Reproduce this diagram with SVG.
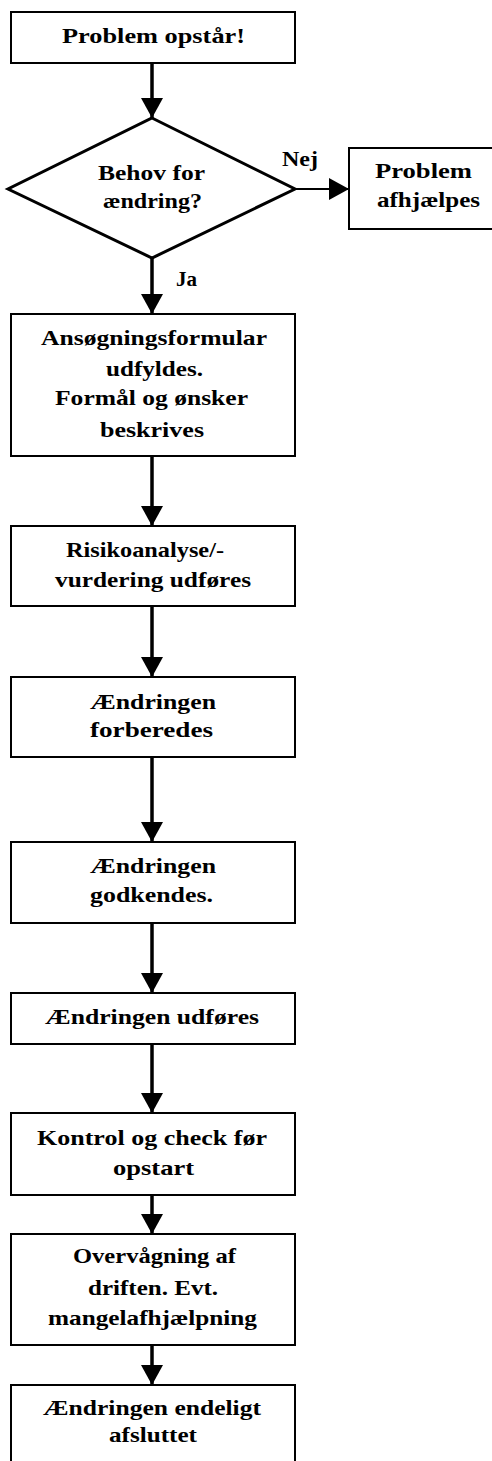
<svg xmlns="http://www.w3.org/2000/svg" width="492" height="1461" viewBox="0 0 492 1461">
<style>
.box{fill:#fff;stroke:#000;stroke-width:2}
.dia{fill:#fff;stroke:#000;stroke-width:3;stroke-linejoin:miter}
.t{font-family:"Liberation Serif","Times New Roman",serif;font-weight:bold;font-size:21px;fill:#000;text-anchor:middle}
.l{font-family:"Liberation Serif","Times New Roman",serif;font-weight:bold;font-size:21px;fill:#000}
.v{stroke:#000;stroke-width:3.5;fill:none}
.h{stroke:#000;stroke-width:2;fill:none}
</style>
<defs>
<marker id="ah" markerUnits="userSpaceOnUse" markerWidth="20" markerHeight="22" viewBox="0 0 20 22" refX="20" refY="11" orient="auto">
<path d="M0,0 L20,11 L0,22 Z" fill="#000"/>
</marker>
</defs>
<rect width="492" height="1461" fill="#fff"/>
<g id="connectors">
<line class="v" x1="152" y1="63" x2="152" y2="118" marker-end="url(#ah)"/>
<line class="h" x1="295" y1="189" x2="349" y2="189" marker-end="url(#ah)"/>
<line class="v" x1="152" y1="258" x2="152" y2="314" marker-end="url(#ah)"/>
<line class="v" x1="152" y1="456" x2="152" y2="526" marker-end="url(#ah)"/>
<line class="v" x1="152" y1="606" x2="152" y2="677" marker-end="url(#ah)"/>
<line class="v" x1="152" y1="757" x2="152" y2="842" marker-end="url(#ah)"/>
<line class="v" x1="152" y1="923" x2="152" y2="993" marker-end="url(#ah)"/>
<line class="v" x1="152" y1="1044" x2="152" y2="1113" marker-end="url(#ah)"/>
<line class="v" x1="152" y1="1195" x2="152" y2="1234" marker-end="url(#ah)"/>
<line class="v" x1="152" y1="1345" x2="152" y2="1385" marker-end="url(#ah)"/>
<text class="l" x="282" y="166" textLength="36" lengthAdjust="spacingAndGlyphs">Nej</text>
<text class="l" x="176" y="286" textLength="21" lengthAdjust="spacingAndGlyphs">Ja</text>
</g>
<g id="n1">
<rect class="box" x="11" y="12" width="284" height="51"/>
<text class="t" x="153.5" y="43" textLength="183" lengthAdjust="spacingAndGlyphs">Problem opstår!</text>
</g>
<g id="n2">
<polygon class="dia" points="152,118 295,189 152,258 8,189"/>
<text class="t" x="151.5" y="180" textLength="107" lengthAdjust="spacingAndGlyphs">Behov for</text>
<text class="t" x="152.5" y="208" textLength="99" lengthAdjust="spacingAndGlyphs">ændring?</text>
</g>
<g id="n3">
<rect class="box" x="349" y="148" width="160" height="81"/>
<text class="t" x="423.5" y="178" textLength="97" lengthAdjust="spacingAndGlyphs">Problem</text>
<text class="t" x="428.5" y="207" textLength="103" lengthAdjust="spacingAndGlyphs">afhjælpes</text>
</g>
<g id="n4">
<rect class="box" x="11" y="314" width="284" height="142"/>
<text class="t" x="154" y="345" textLength="226" lengthAdjust="spacingAndGlyphs">Ansøgningsformular</text>
<text class="t" x="154.5" y="376" textLength="97" lengthAdjust="spacingAndGlyphs">udfyldes.</text>
<text class="t" x="151.5" y="405" textLength="193" lengthAdjust="spacingAndGlyphs">Formål og ønsker</text>
<text class="t" x="152" y="437" textLength="104" lengthAdjust="spacingAndGlyphs">beskrives</text>
</g>
<g id="n5">
<rect class="box" x="11" y="526" width="284" height="80"/>
<text class="t" x="145" y="557" textLength="158" lengthAdjust="spacingAndGlyphs">Risikoanalyse/-</text>
<text class="t" x="153" y="587" textLength="196" lengthAdjust="spacingAndGlyphs">vurdering udføres</text>
</g>
<g id="n6">
<rect class="box" x="11" y="677" width="284" height="80"/>
<text class="t" x="153" y="709" textLength="126" lengthAdjust="spacingAndGlyphs">Ændringen</text>
<text class="t" x="151.5" y="737" textLength="123" lengthAdjust="spacingAndGlyphs">forberedes</text>
</g>
<g id="n7">
<rect class="box" x="11" y="842" width="284" height="81"/>
<text class="t" x="153" y="873" textLength="126" lengthAdjust="spacingAndGlyphs">Ændringen</text>
<text class="t" x="151.5" y="902" textLength="123" lengthAdjust="spacingAndGlyphs">godkendes.</text>
</g>
<g id="n8">
<rect class="box" x="11" y="993" width="284" height="51"/>
<text class="t" x="152" y="1024" textLength="214" lengthAdjust="spacingAndGlyphs">Ændringen udføres</text>
</g>
<g id="n9">
<rect class="box" x="11" y="1113" width="284" height="82"/>
<text class="t" x="152" y="1145" textLength="230" lengthAdjust="spacingAndGlyphs">Kontrol og check før</text>
<text class="t" x="153.5" y="1175" textLength="81" lengthAdjust="spacingAndGlyphs">opstart</text>
</g>
<g id="n10">
<rect class="box" x="11" y="1234" width="284" height="111"/>
<text class="t" x="154.5" y="1263" textLength="163" lengthAdjust="spacingAndGlyphs">Overvågning af</text>
<text class="t" x="153" y="1295" textLength="130" lengthAdjust="spacingAndGlyphs">driften. Evt.</text>
<text class="t" x="152.5" y="1325" textLength="209" lengthAdjust="spacingAndGlyphs">mangelafhjælpning</text>
</g>
<g id="n11">
<rect class="box" x="11" y="1385" width="284" height="100"/>
<text class="t" x="152" y="1415" textLength="218" lengthAdjust="spacingAndGlyphs">Ændringen endeligt</text>
<text class="t" x="153" y="1442" textLength="88" lengthAdjust="spacingAndGlyphs">afsluttet</text>
</g>
</svg>
